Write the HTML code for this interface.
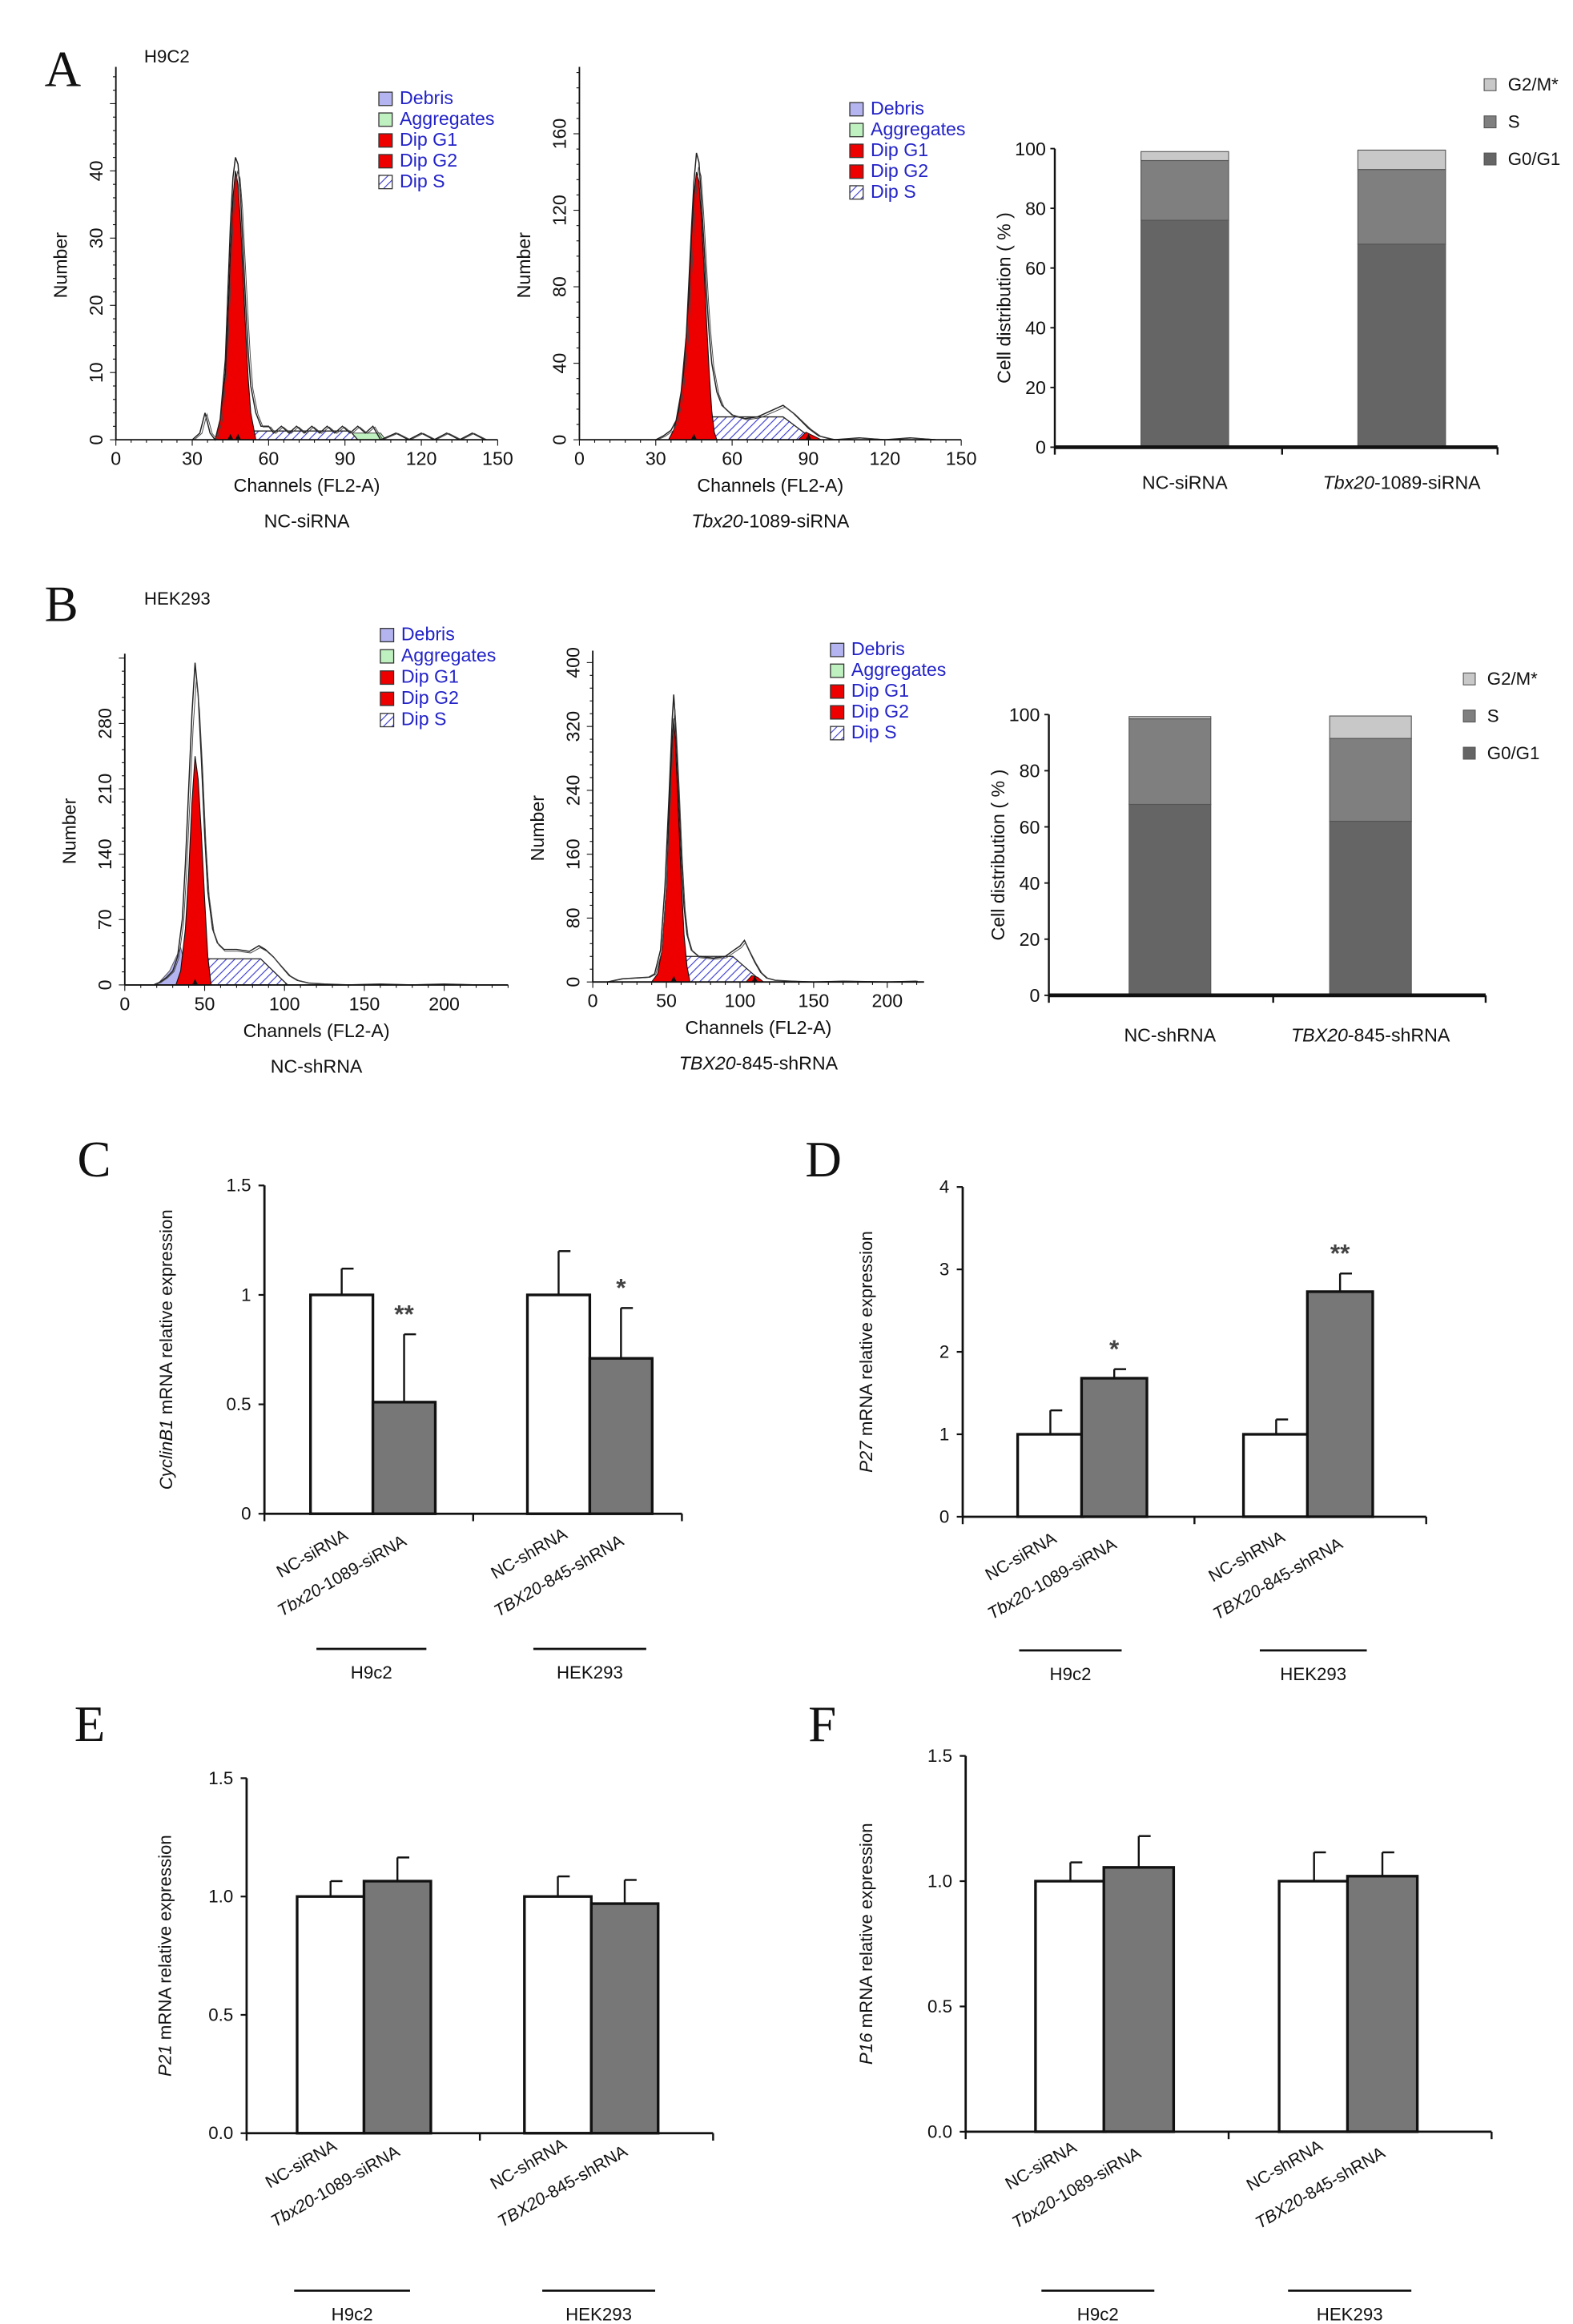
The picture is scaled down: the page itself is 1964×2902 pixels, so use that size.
<!DOCTYPE html>
<html><head><meta charset="utf-8"><style>
html,body{margin:0;padding:0;background:#fff}
svg{display:block}
text{font-family:"Liberation Sans",sans-serif}
.serif{font-family:"Liberation Serif",serif}
</style></head><body>
<svg id="fig" width="1964" height="2902" viewBox="0 0 1058.8 1564.4" xmlns="http://www.w3.org/2000/svg">
<defs>
<pattern id="hatch" patternUnits="userSpaceOnUse" width="4" height="4" patternTransform="rotate(45)">
<rect width="4" height="4" fill="#fff"/><line x1="0" y1="0" x2="0" y2="4" stroke="#3a3ad0" stroke-width="1.2"/></pattern>
</defs>
<g id="root"></g>
</svg>
<script>
// ---------- DATA ----------
const h1Outline=[[30,0],[33,1],[35,4],[37,1],[39,0],[41,3],[43,12],[44,22],[45,32],[46,39],[47,42],[48,41],[49,36],[50,28],[51,20],[52,13],[53,8],[55,4],[57,2],[60,2],[62,1],[65,2],[68,1],[71,2],[74,1],[77,2],[80,1],[83,2],[86,1],[89,2],[92,1],[95,2],[98,1],[101,2],[104,0],[110,1],[115,0],[120,1],[125,0],[130,1],[135,0],[140,1],[145,0]];
const h1G1=[[39,0],[41,3],[43,10],[44,18],[45,28],[46,36],[47,40],[48,38],[49,32],[50,24],[51,16],[52,9],[53,4],[55,0]];
const h1S=[[45,0],[47,1.3],[92,1.3],[95,0]];
const h1Agg=[[92,0],[93,1],[104,1],[106,0]];
const h2Outline=[[30,0],[33,2],[36,5],[38,10],[40,25],[42,55],[44,110],[45,135],[46,150],[47,145],[48,125],[49,100],[50,75],[51,55],[52,40],[54,25],[56,18],[60,13],[65,11],[70,12],[75,15],[80,18],[84,14],[87,10],[90,6],[94,2],[97,1],[100,0],[110,1],[120,0],[130,1],[140,0]];
const h2G1=[[35,0],[37,5],[39,15],[41,35],[43,75],[44,105],[45,128],[46,140],[47,135],[48,115],[49,88],[50,60],[51,35],[52,15],[53,4],[54,0]];
const h2S=[[45,0],[52,12],[80,12],[92,0]];
const h2G2=[[86,0],[89,4],[92,2],[95,0]];
const h3Outline=[[18,0],[22,3],[26,8],[30,15],[33,30],[36,70],[38,130],[40,210],[42,290],[44,345],[46,310],[48,240],[50,160],[52,100],[55,60],[58,45],[62,38],[70,38],[78,36],[84,42],[88,38],[93,30],[98,20],[103,10],[108,5],[115,2],[125,1],[140,0],[160,1],[180,0],[200,1],[220,0]];
const h3G1=[[32,0],[35,15],[38,60],[40,120],[42,195],[44,245],[46,220],[48,160],[50,90],[52,30],[54,0]];
const h3Debris=[[20,0],[28,15],[35,40],[38,20],[40,0]];
const h3S=[[40,0],[48,28],[85,28],[102,0]];
const h4Outline=[[10,0],[20,4],[30,5],[38,6],[42,10],[46,40],[49,120],[52,240],[54,330],[55,360],[56,330],[58,250],[60,160],[62,95],[64,60],[67,40],[72,32],[82,30],[90,32],[96,40],[100,45],[103,52],[106,40],[110,25],[114,12],[118,5],[124,2],[135,1],[150,0],[170,1],[200,0],[220,1]];
const h4G1=[[40,0],[44,10],[47,40],[50,120],[52,220],[54,305],[55,330],[56,305],[58,220],[60,130],[62,60],[64,20],[66,0]];
const h4S=[[50,0],[62,32],[95,32],[115,0]];
const h4G2=[[104,0],[108,8],[112,6],[116,0]];
const aCats=["NC-siRNA","Tbx20-1089-siRNA"];
const aG0=[76,68], aS=[20,25], aG2=[3,6.5];
const bCats=["NC-shRNA","TBX20-845-shRNA"];
const bG0=[68,62], bS=[30.5,29.5], bG2=[0.8,8];
const cVals=[1,0.51,1,0.71], cErr=[0.12,0.31,0.2,0.23];
const dVals=[1,1.68,1,2.73], dErr=[0.29,0.11,0.18,0.22];
const eVals=[1,1.065,1,0.97], eErr=[0.065,0.1,0.085,0.1];
const fVals=[1,1.055,1,1.02], fErr=[0.075,0.125,0.115,0.095];
const cTicks=["0","0.5","1","1.5"], dTicks=["0","1","2","3","4"], eTicks=["0.0","0.5","1.0","1.5"];
const barLabels=["NC-siRNA","Tbx20-1089-siRNA","NC-shRNA","TBX20-845-shRNA"];

// ---------- DRAW ----------
const NS="http://www.w3.org/2000/svg";
const root=document.getElementById('root');
function el(tag,attrs,parent,txt){const e=document.createElementNS(NS,tag);for(const k in attrs)e.setAttribute(k,attrs[k]);if(txt!==undefined)e.textContent=txt;(parent||root).appendChild(e);return e;}
function txt(x,y,s,size,opt,parent){opt=opt||{};const a={x:x,y:y,'font-size':size,fill:opt.fill||'#111','text-anchor':opt.anchor||'middle'};if(opt.rot!==undefined)a.transform=`rotate(${opt.rot} ${x} ${y})`;if(opt.italic)a['font-style']='italic';if(opt.cls)a['class']=opt.cls;if(opt.weight)a['font-weight']=opt.weight;const t=el('text',a,parent,s);return t;}

function panelLetter(x,y,s){const t=txt(x,y,s,34,{cls:'serif',anchor:'start'});

}
panelLetter(30,58,"A");panelLetter(30,418,"B");panelLetter(52,792,"C");panelLetter(542,792,"D");panelLetter(50,1172,"E");panelLetter(544,1172,"F");
txt(97,42,"H9C2",12,{anchor:'start'});txt(97,407,"HEK293",12,{anchor:'start'});

function hist(cfg){
 const g=el('g',{});
 
 
 const X=v=>cfg.x0+(v-cfg.xmin)/(cfg.xmax-cfg.xmin)*(cfg.x1-cfg.x0);
 const Y=v=>cfg.y0-v/cfg.ymax*(cfg.y0-cfg.y1);
 const poly=arr=>arr.map(p=>X(p[0]).toFixed(1)+','+Y(p[1]).toFixed(1)).join(' ');
 if(cfg.debris){const d=el('polygon',{points:poly(cfg.debris),fill:'#b4b4f0',stroke:'#555','stroke-width':0.5},g);}
 if(cfg.agg){const d=el('polygon',{points:poly(cfg.agg),fill:'#bff0bf',stroke:'#333','stroke-width':0.5},g);}
 const s=el('polygon',{points:poly(cfg.S),fill:'url(#hatch)',stroke:'#222','stroke-width':0.7},g);
 
 const r=el('polygon',{points:poly(cfg.G1),fill:'#ee0000',stroke:'#111','stroke-width':0.6},g);
 
 if(cfg.G2){const r2=el('polygon',{points:poly(cfg.G2),fill:'#ee0000',stroke:'#111','stroke-width':0.5},g);}
 const o=el('polyline',{points:poly(cfg.outline),fill:'none',stroke:'#222','stroke-width':0.8},g);
 
 const o2=el('polyline',{points:poly(cfg.outline.map(p=>[p[0]+0.8,p[1]*0.95])),fill:'none',stroke:'#444','stroke-width':0.5},g);
 
 el('line',{x1:cfg.x0,y1:cfg.y0,x2:cfg.x1,y2:cfg.y0,stroke:'#111','stroke-width':1},g);
 el('line',{x1:cfg.x0,y1:cfg.y0,x2:cfg.x0,y2:cfg.ytop,stroke:'#111','stroke-width':1},g);
 for(let v=cfg.xmin;v<=cfg.xmax+0.01;v+=cfg.xminor){el('line',{x1:X(v),y1:cfg.y0,x2:X(v),y2:cfg.y0+(Math.abs(v%cfg.xstep)<0.01?4:2),stroke:'#111','stroke-width':0.6},g);}
 cfg.xticks.forEach(v=>txt(X(v),cfg.y0+17,String(v),12.5,{},g));
 for(let v=0;Y(v)>=cfg.ytop-0.1;v+=cfg.yminor){el('line',{x1:cfg.x0-(Math.abs(v%cfg.ystep)<0.01?4:2),y1:Y(v),x2:cfg.x0,y2:Y(v),stroke:'#111','stroke-width':0.6},g);}
 cfg.yticks.forEach(v=>txt(cfg.x0-9,Y(v),String(v),12.5,{rot:-90},g));
 txt(cfg.x0-33,(cfg.y0+cfg.ytop)/2+8,"Number",12.5,{rot:-90},g);
 txt((cfg.x0+cfg.x1)/2,cfg.y0+35,"Channels (FL2-A)",12.5,{},g);
 const lab=txt((cfg.x0+cfg.x1)/2,cfg.y0+59,"",12.5,{},g);
 
 cfg.label.forEach(p=>{el('tspan',p[1]?{'font-style':'italic'}:{},lab,p[0]);});
 cfg.marks.forEach(v=>el('polygon',{points:`${X(v)-2},${cfg.y0} ${X(v)+2},${cfg.y0} ${X(v)},${cfg.y0-4}`,fill:'#111'},g));
 const L=el('g',{},g);
 const items=[["Debris","#b4b4f0"],["Aggregates","#bff0bf"],["Dip G1","#ee0000"],["Dip G2","#ee0000"],["Dip S","url(#hatch)"]];
 items.forEach((it,i)=>{const yy=cfg.ly+i*cfg.lstep;
  el('rect',{x:cfg.lx,y:yy-8,width:9,height:9,fill:it[1],stroke:'#333','stroke-width':0.7},L);
  const t=txt(cfg.lx+14,yy,it[0],12.5,{anchor:'start',fill:'#2323c8'},L);
  });
}
hist({name:'histogram-h9c2-nc',x0:78,x1:335,xmin:0,xmax:150,y0:296,y1:115,ymax:40,ytop:45,xstep:30,xminor:6,ystep:10,yminor:2,xticks:[0,30,60,90,120,150],yticks:[0,10,20,30,40],
 outline:h1Outline,G1:h1G1,S:h1S,agg:h1Agg,label:[["NC-siRNA",0]],marks:[45,48],lx:255,ly:70,lstep:14});
hist({name:'histogram-h9c2-tbx20',x0:390,x1:647,xmin:0,xmax:150,y0:296,y1:90,ymax:160,ytop:45,xstep:30,xminor:6,ystep:40,yminor:8,xticks:[0,30,60,90,120,150],yticks:[0,40,80,120,160],
 outline:h2Outline,G1:h2G1,S:h2S,G2:h2G2,label:[["Tbx20",1],["-1089-siRNA",0]],marks:[45,90],lx:572,ly:77,lstep:14});
hist({name:'histogram-hek293-nc',x0:84,x1:342,xmin:0,xmax:240,y0:663,y1:487,ymax:280,ytop:440,xstep:50,xminor:10,ystep:70,yminor:14,xticks:[0,50,100,150,200],yticks:[0,70,140,210,280],
 outline:h3Outline,G1:h3G1,S:h3S,debris:h3Debris,label:[["NC-shRNA",0]],marks:[44],lx:256,ly:431,lstep:14.3});
hist({name:'histogram-hek293-tbx20',x0:399,x1:622,xmin:0,xmax:225,y0:661,y1:446,ymax:400,ytop:438,xstep:50,xminor:10,ystep:80,yminor:16,xticks:[0,50,100,150,200],yticks:[0,80,160,240,320,400],
 outline:h4Outline,G1:h4G1,S:h4S,G2:h4G2,label:[["TBX20",1],["-845-shRNA",0]],marks:[55,110],lx:559,ly:441,lstep:14});

function stacked(cfg){
 const g=el('g',{});
 
 
 const Y=v=>cfg.y0-v/100*(cfg.y0-cfg.y100);
 const cols=['#656565','#7f7f7f','#c8c8c8'];
 cfg.cats.forEach((c,i)=>{
  const segs=[cfg.g0[i],cfg.s[i],cfg.g2[i]];let base=0;
  segs.forEach((v,j)=>{const r=el('rect',{x:cfg.bx[i],y:Y(base+v),width:cfg.bw,height:Y(base)-Y(base+v),fill:cols[j],stroke:'#555','stroke-width':0.6},g);
   base+=v;});
  const t=txt(cfg.bx[i]+cfg.bw/2,cfg.ly,"",12.5,{},g);
  
  const m=c.match(/^(Tbx20|TBX20)(.*)$/);
  if(m){el('tspan',{'font-style':'italic'},t,m[1]);el('tspan',{},t,m[2]);}else t.textContent=c;
 });
 el('line',{x1:cfg.x0,y1:cfg.y0,x2:cfg.x0,y2:cfg.y100,stroke:'#111','stroke-width':1.3},g);
 el('line',{x1:cfg.x0,y1:cfg.y0,x2:cfg.x1,y2:cfg.y0,stroke:'#111','stroke-width':2.5},g);
 [cfg.x0,(cfg.x0+cfg.x1)/2+4,cfg.x1].forEach(x=>el('line',{x1:x,y1:cfg.y0,x2:x,y2:cfg.y0+5,stroke:'#111','stroke-width':1.3},g));
 for(let v=0;v<=100;v+=20){el('line',{x1:cfg.x0-3,y1:Y(v),x2:cfg.x0,y2:Y(v),stroke:'#111','stroke-width':1},g);txt(cfg.x0-6,Y(v)+4.5,String(v),12.5,{anchor:'end'},g);}
 txt(cfg.x0-30,(cfg.y0+cfg.y100)/2,"Cell distribution ( % )",12.5,{rot:-90},g);
 const names=["G2/M*","S","G0/G1"],lc=['#c8c8c8','#7f7f7f','#656565'];
 names.forEach((n,i)=>{const yy=cfg.legy+i*cfg.legstep;el('rect',{x:cfg.legx,y:yy-8,width:8,height:8,fill:lc[i],stroke:'#555','stroke-width':0.6},g);
  const t=txt(cfg.legx+16,yy,n,12,{anchor:'start'},g);});
}
stacked({name:'stacked-bar-a',x0:710,x1:1008,y0:301,y100:100,cats:aCats,g0:aG0,s:aS,g2:aG2,bx:[768,914],bw:59,ly:329,legx:999,legy:61,legstep:25});
stacked({name:'stacked-bar-b',x0:706,x1:1000,y0:670,y100:481,cats:bCats,g0:bG0,s:bS,g2:bG2,bx:[760,895],bw:55,ly:701,legx:985,legy:461,legstep:25});

function barChart(cfg){
 const g=el('g',{});
 
 
 const Y=v=>cfg.y0-v/cfg.ymax*(cfg.y0-cfg.ytop);
 cfg.vals.forEach((v,i)=>{
  const x=cfg.bx[i],w=cfg.bw;
  const top=Y(v+cfg.err[i]);
  el('line',{x1:x+w/2,y1:Y(v),x2:x+w/2,y2:top,stroke:'#111','stroke-width':1.3},g);
  el('line',{x1:x+w/2,y1:top,x2:x+w/2+8,y2:top,stroke:'#111','stroke-width':1.3},g);
  const r=el('rect',{x:x,y:Y(v),width:w,height:cfg.y0-Y(v),fill:i%2?'#777':'#fff',stroke:'#111','stroke-width':1.8},g);
  
  const lx=x+w/2+(i%2?-40:-18),ly=cfg.y0+(i%2?cfg.ldy+15:cfg.ldy);
  const t=txt(lx,ly,"",11.5,{rot:-30,anchor:'middle'},g);
  
  const m=barLabels[i].match(/^(Tbx20|TBX20)(.*)$/);
  if(m){el('tspan',{'font-style':'italic'},t,m[1]);el('tspan',{},t,m[2]);}else t.textContent=barLabels[i];
 });
 (cfg.stars||[]).forEach((s,i)=>{if(s){const t=txt(cfg.bx[i]+cfg.bw/2,Y(cfg.vals[i]+cfg.err[i])-8,s,17,{fill:'#444',weight:'bold'},g);}});
 el('line',{x1:cfg.x0,y1:cfg.y0,x2:cfg.x0,y2:cfg.ytop,stroke:'#111','stroke-width':1.5},g);
 el('line',{x1:cfg.x0,y1:cfg.y0,x2:cfg.x1,y2:cfg.y0,stroke:'#111','stroke-width':1.5},g);
 [cfg.x0,(cfg.x0+cfg.x1)/2,cfg.x1].forEach(x=>el('line',{x1:x,y1:cfg.y0,x2:x,y2:cfg.y0+5,stroke:'#111','stroke-width':1.3},g));
 cfg.ticks.forEach((tk,i)=>{const v=i*cfg.ymax/(cfg.ticks.length-1);el('line',{x1:cfg.x0-4,y1:Y(v),x2:cfg.x0,y2:Y(v),stroke:'#111','stroke-width':1.2},g);txt(cfg.x0-9,Y(v)+4,tk,12,{anchor:'end'},g);});
 const yl=txt(cfg.ylx,(cfg.y0+cfg.ytop)/2,"",12,{rot:-90},g);
 
 el('tspan',{'font-style':'italic'},yl,cfg.gene);el('tspan',{},yl," mRNA relative expression");
 cfg.groups.forEach(gr=>{el('line',{x1:gr[0],y1:cfg.gy,x2:gr[1],y2:cfg.gy,stroke:'#111','stroke-width':1.5},g);
  const t=txt((gr[0]+gr[1])/2,cfg.gy+20,gr[2],12,{},g);});
}
barChart({name:'chart-c-cyclinb1',x0:178,x1:459,y0:1019,ytop:798,ymax:1.5,ticks:cTicks,vals:cVals,err:cErr,bx:[209,251,355,397],bw:42,stars:[null,"**",null,"*"],gene:"CyclinB1",ylx:116,gy:1110,ldy:30,groups:[[213,287,"H9c2"],[359,435,"HEK293"]]});
barChart({name:'chart-d-p27',x0:648,x1:960,y0:1021,ytop:799,ymax:4,ticks:dTicks,vals:dVals,err:dErr,bx:[685,728,837,880],bw:44,stars:[null,"*",null,"**"],gene:"P27",ylx:587,gy:1111,ldy:30,groups:[[686,755,"H9c2"],[848,920,"HEK293"]]});
barChart({name:'chart-e-p21',x0:166,x1:480,y0:1436,ytop:1197,ymax:1.5,ticks:eTicks,vals:eVals,err:eErr,bx:[200,245,353,398],bw:45,gene:"P21",ylx:115,gy:1542,ldy:24,groups:[[198,276,"H9c2"],[365,441,"HEK293"]]});
barChart({name:'chart-f-p16',x0:650,x1:1004,y0:1435,ytop:1182,ymax:1.5,ticks:eTicks,vals:fVals,err:fErr,bx:[697,743,861,907],bw:47,gene:"P16",ylx:587,gy:1542,ldy:26,groups:[[701,777,"H9c2"],[867,950,"HEK293"]]});
</script>
</body></html>
